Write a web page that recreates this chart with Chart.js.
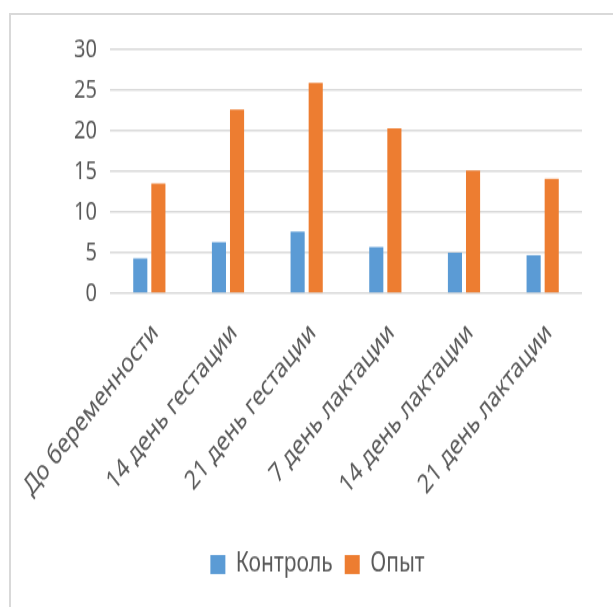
<!DOCTYPE html>
<html>
<head>
<meta charset="utf-8">
<script src="https://cdn.jsdelivr.net/npm/chart.js@4.4.1/dist/chart.umd.min.js"></script>
<style>
  html, body { margin: 0; padding: 0; background: #fff; }
  #wrap { position: relative; width: 613px; height: 607px; overflow: hidden; }
  #frame { position: absolute; left: 9px; top: 13px; width: 640px; height: 640px;
           border-left: 2px solid #d9d9d9; border-top: 2px solid #d9d9d9; }
  /* the original picture is stretched vertically, so the canvas is too */
  #chart { position: absolute; left: 0; top: 0; transform: scaleY(1.27); transform-origin: 0 0; }
</style>
</head>
<body>
<div id="wrap">
  <div id="frame"></div>
  <canvas id="chart" width="613" height="478"></canvas>
</div>
<script>
const FONT = "'Noto Sans', 'DejaVu Sans', sans-serif";

// data
const labels = ['До беременности', '14 день гестации', '21 день гестации',
                '7 день лактации', '14 день лактации', '21 день лактации'];
const control = [4.3, 6.3, 7.6, 5.7, 5.0, 4.7];
const experiment = [13.5, 22.6, 25.9, 20.3, 15.1, 14.1];
const yTicks = [0, 5, 10, 15, 20, 25, 30];

const config = {
  type: 'bar',
  data: {
    labels: labels,
    datasets: [{
      label: 'Контроль',
      data: control,
      backgroundColor: '#5b9bd5',
      barPercentage: 0.78,
      categoryPercentage: 0.46
    }, {
      label: 'Опыт',
      data: experiment,
      backgroundColor: '#ed7d31',
      barPercentage: 0.78,
      categoryPercentage: 0.46
    }]
  },
  options: {
    responsive: false,
    animation: false,
    layout: { padding: { left: 53, right: 31, top: 39, bottom: 13 } },
    plugins: {
      legend: {
        position: 'bottom',
        labels: {
          color: '#595959',
          font: { family: FONT, size: 21 },
          boxWidth: 15,
          boxHeight: 15,
          padding: 12
        }
      },
      tooltip: { enabled: false }
    },
    scales: {
      x: {
        grid: { display: false, drawTicks: false },
        border: { display: false },
        ticks: {
          color: '#595959',
          font: { family: FONT, size: 21 },
          minRotation: 45,
          maxRotation: 45,
          padding: 19,
          labelOffset: 6
        },
        afterFit: axis => {
          axis.height = 191;
          axis.paddingLeft = 0;
          axis.paddingRight = 0;
        }
      },
      y: {
        min: 0,
        max: 30,
        afterBuildTicks: axis => { axis.ticks = yTicks.map(v => ({ value: v })); },
        grid: { color: '#d9d9d9', lineWidth: 1.5, drawTicks: false },
        border: { display: false },
        ticks: {
          color: '#595959',
          font: { family: FONT, size: 20 },
          padding: 13
        },
        afterFit: axis => {
          axis.width = 57;
          axis.paddingTop = 0;
          axis.paddingBottom = 0;
        }
      }
    }
  }
};

new Chart(document.getElementById('chart'), config);
</script>
</body>
</html>
